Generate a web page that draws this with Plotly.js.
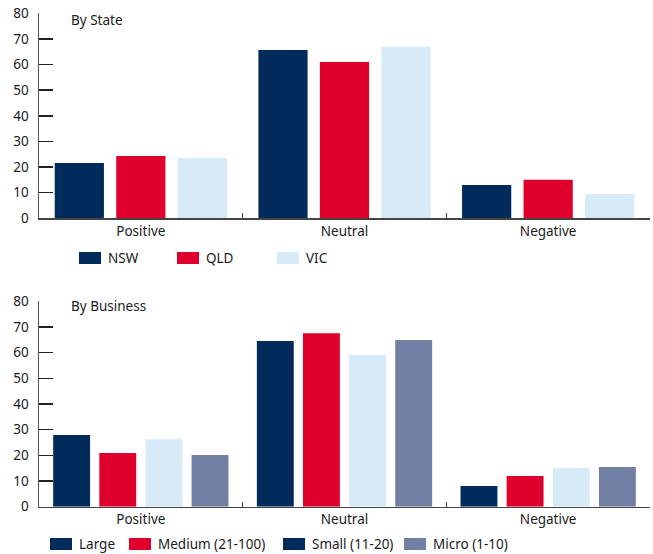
<!DOCTYPE html>
<html><head><meta charset="utf-8">
<script src="https://cdn.plot.ly/plotly-3.0.1.min.js"></script>
<style>html,body{margin:0;padding:0;background:#fff}#chart{width:653px;height:554px}</style>
</head><body><div id="chart"></div>
<script>
const categories = ["Positive", "Neutral", "Negative"];
const stateNames = ["NSW", "QLD", "VIC"];
const stateNSW = [21.6, 65.7, 13.0];
const stateQLD = [24.3, 61.0, 15.0];
const stateVIC = [23.5, 66.9, 9.5];
const bizNames = ["Large", "Medium (21-100)", "Small (11-20)", "Micro (1-10)"];
const bizLarge = [27.9, 64.5, 8.1];
const bizMedium = [20.9, 67.6, 12.0];
const bizSmall = [26.3, 59.1, 15.1];
const bizMicro = [20.1, 64.9, 15.5];
const yTicks = [0, 10, 20, 30, 40, 50, 60, 70, 80];

const NAVY = "#002B5A", RED = "#E0002E", LIGHT = "#D6EAF8", SLATE = "#7281A3";
const W = 653, H = 554;
const px = x => x / W, py = y => (H - y) / H;
const FONT = "Noto Sans, Open Sans, sans-serif";
const FS = 13.5;

const stateColors = [NAVY, RED, LIGHT];
const bizColors = [NAVY, RED, LIGHT, SLATE];
const legendBizColors = [NAVY, RED, NAVY, SLATE];

const traces = [];
[stateNSW, stateQLD, stateVIC].forEach((v, i) => traces.push({
  type: "bar", x: categories, y: v, name: stateNames[i], xaxis: "x", yaxis: "y",
  marker: {color: stateColors[i]}, showlegend: false, hoverinfo: "none"
}));
[bizLarge, bizMedium, bizSmall, bizMicro].forEach((v, i) => traces.push({
  type: "bar", x: categories, y: v, name: bizNames[i], xaxis: "x2", yaxis: "y2",
  marker: {color: bizColors[i]}, showlegend: false, hoverinfo: "none"
}));

function yax(domain, anchor) {
  return {domain: domain, anchor: anchor, range: [0, 80], tickvals: yTicks, ticks: "inside",
    ticklen: 14, tickwidth: 1.5, tickcolor: "#222", showline: true, linecolor: "#555", linewidth: 1.5,
    showgrid: false, zeroline: false, fixedrange: true, ticklabelstandoff: 6,
    tickfont: {family: FONT, size: FS, color: "#1a1a1a"}};
}
function xax(domain, anchor) {
  return {domain: domain, anchor: anchor, showline: true, linecolor: "#444", linewidth: 1.5,
    ticks: "inside", ticklen: 5, tickcolor: "#444", tickson: "boundaries", showgrid: false,
    fixedrange: true, tickfont: {family: FONT, size: FS, color: "#1a1a1a"}, ticklabelstandoff: 0};
}

const shapes = [], annotations = [];
function legendItem(x0, y0, color, label) {
  shapes.push({type: "rect", xref: "paper", yref: "paper", x0: px(x0), x1: px(x0 + 22),
    y0: py(y0 + 12), y1: py(y0), fillcolor: color, line: {width: 0}});
  annotations.push({xref: "paper", yref: "paper", x: px(x0 + 27), y: py(y0 + 6), xanchor: "left",
    yanchor: "middle", text: label, showarrow: false, font: {family: FONT, size: FS, color: "#1a1a1a"}});
}
const stateLegX = [79, 177, 277];
stateNames.forEach((n, i) => legendItem(stateLegX[i], 252, stateColors[i], n));
const bizLegX = [50, 129, 283, 404];
bizNames.forEach((n, i) => legendItem(bizLegX[i], 538, legendBizColors[i], n));

annotations.push({xref: "paper", yref: "paper", x: px(69), y: py(20), xanchor: "left", yanchor: "middle",
  text: "By State", showarrow: false, font: {family: FONT, size: FS, color: "#1a1a1a"}});
annotations.push({xref: "paper", yref: "paper", x: px(69), y: py(306), xanchor: "left", yanchor: "middle",
  text: "By Business", showarrow: false, font: {family: FONT, size: FS, color: "#1a1a1a"}});

const layout = {
  width: W, height: H, margin: {l: 0, r: 0, t: 0, b: 0},
  paper_bgcolor: "#fff", plot_bgcolor: "#fff",
  barmode: "group", bargap: 0.094, bargroupgap: 0.2,
  xaxis: xax([px(39), px(650)], "y"),
  yaxis: yax([py(218.3), py(13.3)], "x"),
  xaxis2: xax([px(39), px(650)], "y2"),
  yaxis2: yax([py(506.7), py(301.3)], "x2"),
  shapes: shapes, annotations: annotations, showlegend: false
};
Plotly.newPlot("chart", traces, layout, {displayModeBar: false, staticPlot: true});
</script></body></html>
